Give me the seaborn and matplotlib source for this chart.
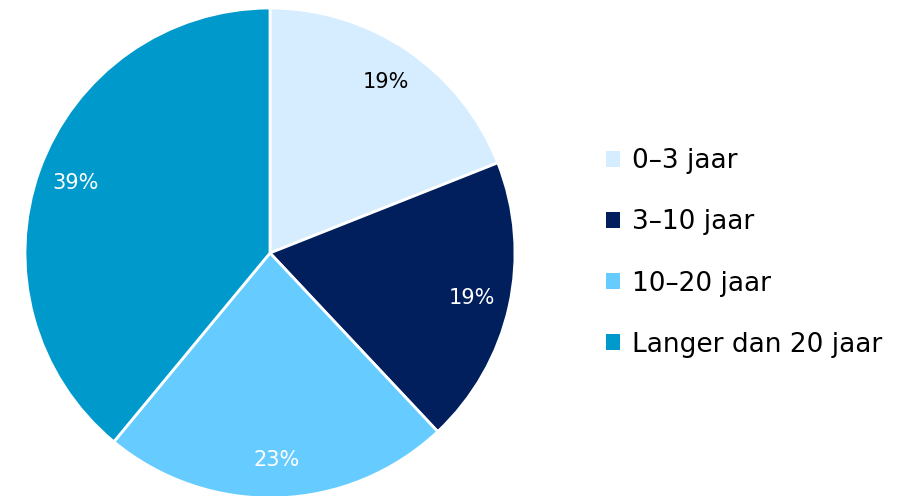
import matplotlib
matplotlib.use("Agg")
import matplotlib.pyplot as plt
import seaborn as sns
from matplotlib.patches import Patch

categories = ["0–3 jaar", "3–10 jaar", "10–20 jaar", "Langer dan 20 jaar"]
shares = [19, 19, 23, 39]
colors = ["#D6EDFF", "#001F5C", "#66CCFF", "#0099CC"]
label_colors = ["black", "white", "white", "white"]

sns.set_theme(style="white")
plt.rcParams["font.family"] = ["DejaVu Sans"]
palette = sns.color_palette(colors)

fig = plt.figure(figsize=(9.07, 4.96), dpi=100)
ax = fig.add_axes([25 / 907, -2 / 496, 490 / 907, 490 / 496])

wedges, texts, autotexts = ax.pie(
    shares, colors=palette, startangle=90, counterclock=False,
    autopct="%d%%", pctdistance=0.845, radius=1,
    wedgeprops=dict(edgecolor="white", linewidth=2),
)
for t, c in zip(autotexts, label_colors):
    t.set_color(c)
    t.set_fontsize(15)
ax.set_xlim(-1, 1)
ax.set_ylim(-1, 1)
ax.set_aspect("equal")
ax.axis("off")

handles = [Patch(facecolor=c, edgecolor="none") for c in palette]
leg = fig.legend(handles, categories, loc="center left", bbox_to_anchor=(582 / 907, 243 / 496),
                 frameon=False, fontsize=19, handlelength=0.55, handleheight=0.55,
                 handletextpad=0.45, labelspacing=1.33)
for t in leg.get_texts():
    t.set_color("black")

fig.savefig("out.png", dpi=100)
